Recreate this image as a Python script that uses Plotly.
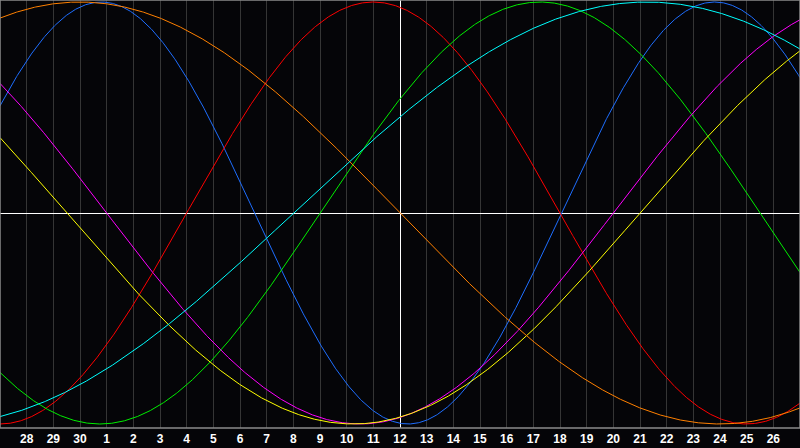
import numpy as np
import plotly.graph_objects as go

# Day labels shown under the grid (offset from centre day 12)
DAY_OFFSETS = list(range(-14, 15))
DAY_LABELS = ["28", "29", "30"] + [str(d) for d in range(1, 27)]

# Biorhythm cycles: name, period (days), day offset of a peak, colour
CYCLE_NAMES = ["Physical", "Emotional", "Intellectual", "Intuitive", "Aesthetic", "Awareness", "Spiritual"]
CYCLE_PERIODS = [23, 28, 33, 38, 43, 48, 53]
CYCLE_PEAKS = [-11.2, -1.0, 5.25, 17.5, 19.75, -12.0, 9.26]
CYCLE_COLORS = ["#1e6eff", "#ff0000", "#00ee00", "#ff00ff", "#ffff00", "#ff8000", "#00ffff"]

BG = "#050508"

fig = go.Figure()
t = np.linspace(-15, 15, 1201)
for name, per, pk, col in zip(CYCLE_NAMES, CYCLE_PERIODS, CYCLE_PEAKS, CYCLE_COLORS):
    v = np.cos(2 * np.pi * (t - pk) / per)
    fig.add_trace(go.Scatter(x=t, y=v, mode="lines", name=name,
                             line=dict(color=col, width=1), hoverinfo="skip"))

fig.update_layout(
    width=800, height=448,
    margin=dict(l=0, r=0, t=0, b=20),
    paper_bgcolor=BG, plot_bgcolor=BG,
    showlegend=False,
    xaxis=dict(range=[-15, 15], tickvals=DAY_OFFSETS, ticktext=DAY_LABELS,
               showgrid=True, gridcolor="#353535", gridwidth=1,
               zeroline=True, zerolinecolor="#ffffff", zerolinewidth=1,
               ticks="", ticklabelstandoff=2,
               tickfont=dict(family="Liberation Sans", size=12, color="#ffffff", weight="bold"),
               fixedrange=True, showline=False),
    yaxis=dict(range=[-1.019, 1.0095], showgrid=False, showticklabels=False,
               zeroline=True, zerolinecolor="#ffffff", zerolinewidth=1,
               ticks="", fixedrange=True, showline=False),
    shapes=[dict(type="rect", xref="paper", yref="paper", x0=0, x1=1, y0=0, y1=1,
                 line=dict(color="#8a8a8a", width=1.5), layer="above")],
)

fig.write_html("out.html", config={"displayModeBar": False},
               post_script="document.body.style.margin='0';document.body.style.background='%s';" % BG)
